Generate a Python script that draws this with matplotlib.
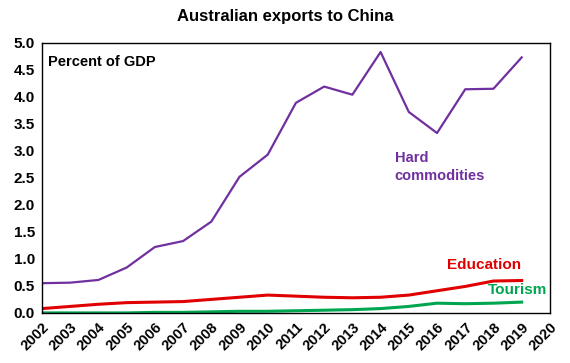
import numpy as np
import matplotlib.pyplot as plt

plt.rcParams['font.family'] = ['Liberation Sans', 'DejaVu Sans']

years = list(range(2002, 2020))
hard_commodities = [0.55, 0.56, 0.61, 0.84, 1.22, 1.33, 1.69, 2.52, 2.93, 3.89,
                    4.19, 4.04, 4.83, 3.72, 3.33, 4.14, 4.15, 4.73]
education = [0.08, 0.12, 0.16, 0.19, 0.20, 0.21, 0.25, 0.29, 0.33, 0.31,
             0.29, 0.28, 0.29, 0.33, 0.41, 0.49, 0.59, 0.60]
tourism = [0.00, 0.00, 0.00, 0.00, 0.01, 0.01, 0.02, 0.03, 0.03, 0.04,
           0.05, 0.06, 0.08, 0.12, 0.18, 0.17, 0.18, 0.20]
x_ticks = list(range(2002, 2021))
y_ticks = [0.0, 0.5, 1.0, 1.5, 2.0, 2.5, 3.0, 3.5, 4.0, 4.5, 5.0]

purple = '#7030A0'
red = '#E00000'
green = '#00A550'

fig = plt.figure(figsize=(5.7, 3.63), dpi=100)
ax = fig.add_axes([0.0737, 0.138, 0.891, 0.744])

ax.plot(years, hard_commodities, color=purple, lw=1.6)
ax.plot(years, education, color=red, lw=2.2)
ax.plot(years, tourism, color=green, lw=2.2)

ax.set_xlim(2002, 2020)
ax.set_ylim(0, 5)
ax.set_xticks(x_ticks)
ax.set_xticklabels([str(y) for y in x_ticks], rotation=45, ha='right',
                   rotation_mode='anchor', fontweight='bold', fontsize=10.5)
ax.set_yticks(y_ticks)
ax.set_yticklabels([f'{v:.1f}' for v in y_ticks], fontweight='bold', fontsize=11)
ax.tick_params(length=0, pad=5)
for s in ax.spines.values():
    s.set_linewidth(1.0)
    s.set_color('black')

fig.suptitle('Australian exports to China', fontweight='bold', fontsize=12, y=0.975)
ax.text(0.012, 0.955, 'Percent of GDP', transform=ax.transAxes, fontweight='bold',
        fontsize=10.5, va='top', ha='left')
ax.text(2014.5, 2.7, 'Hard\ncommodities', color=purple, fontweight='bold',
        fontsize=10.5, va='center', ha='left', linespacing=1.35)
ax.text(2016.35, 0.88, 'Education', color=red, fontweight='bold', fontsize=11,
        va='center', ha='left')
ax.text(2017.8, 0.42, 'Tourism', color=green, fontweight='bold', fontsize=11,
        va='center', ha='left')

fig.savefig('out.png', dpi=100)
